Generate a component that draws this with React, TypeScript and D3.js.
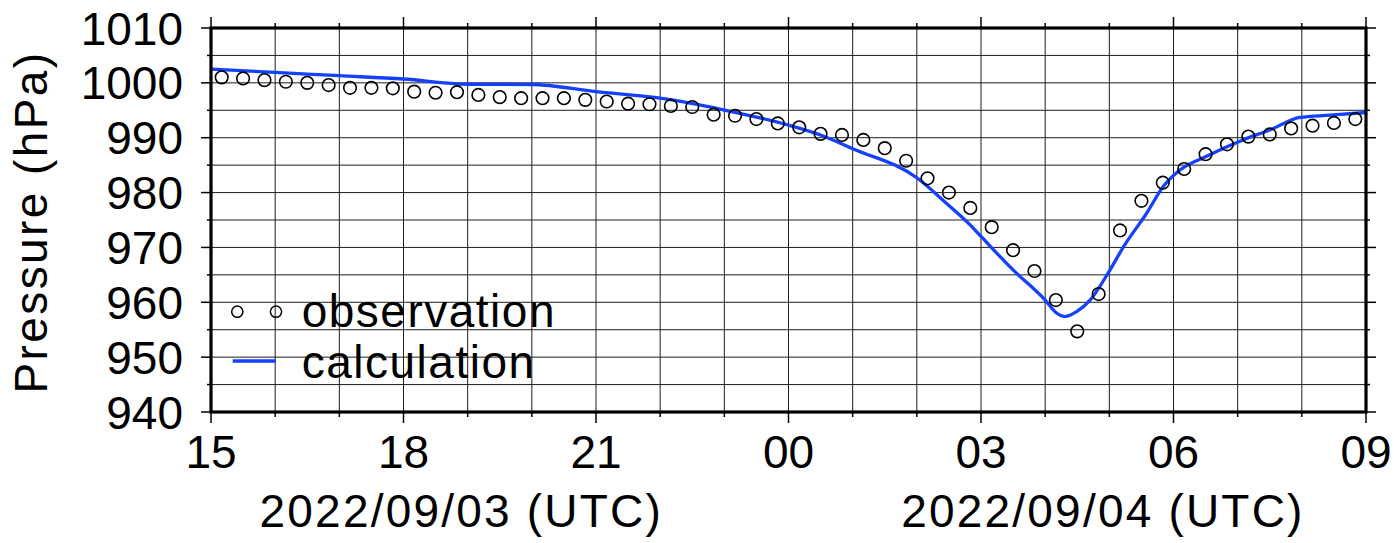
import React from "react";
import * as d3 from "d3";

// ---- data ----
const xTickLabels = ["15", "18", "21", "00", "03", "06", "09"]; // every 3 h from 15 UTC
const dateLabels = ["2022/09/03 (UTC)", "2022/09/04 (UTC)"];
const yTicks = [940, 950, 960, 970, 980, 990, 1000, 1010];

// observation times (UTC) and pressure (hPa)
const obsTimes = [
  "15:10", "15:30", "15:50", "16:10", "16:30", "16:50", "17:10", "17:30", "17:50",
  "18:10", "18:30", "18:50", "19:10", "19:30", "19:50", "20:10", "20:30", "20:50",
  "21:10", "21:30", "21:50", "22:10", "22:30", "22:50", "23:10", "23:30", "23:50",
  "00:10", "00:30", "00:50", "01:10", "01:30", "01:50", "02:10", "02:30", "02:50",
  "03:10", "03:30", "03:50", "04:10", "04:30", "04:50", "05:10", "05:30", "05:50",
  "06:10", "06:30", "06:50", "07:10", "07:30", "07:50", "08:10", "08:30", "08:50",
];
const obsValues = [
  1001.0, 1000.8, 1000.5, 1000.2, 1000.0, 999.6, 999.1, 999.1, 999.0,
  998.4, 998.2, 998.3, 997.8, 997.4, 997.2, 997.2, 997.2, 996.9,
  996.6, 996.2, 996.1, 995.8, 995.6, 994.2, 994.0, 993.4, 992.6,
  991.9, 990.7, 990.5, 989.6, 988.1, 985.8, 982.6, 980.0, 977.2,
  973.7, 969.5, 965.7, 960.4, 954.7, 961.5, 973.1, 978.5, 981.8,
  984.3, 987.0, 988.8, 990.2, 990.6, 991.7, 992.2, 992.7, 993.4,
];

// calculation: hours since 2022/09/03 15 UTC and pressure (hPa)
const calcHours = [
  0, 1, 2, 3, 4, 5, 6, 7, 8, 9, 9.5, 10, 11, 11.46, 11.83, 12.0, 12.5, 13.0,
  13.18, 13.31, 13.49, 13.7, 13.98, 14.22, 14.58, 14.84, 15.1, 15.49, 16.08,
  16.5, 16.97, 17.44, 18,
];
const calcValues = [
  1002.5, 1001.9, 1001.3, 1000.7, 999.75, 999.7, 998.4, 997.2, 995.05, 992.3,
  990.5, 988.0, 982.7, 978.05, 974.1, 972.0, 965.9, 960.4, 958.0, 957.4, 958.3,
  960.4, 965.3, 970.1, 976.2, 981.1, 984.1, 986.5, 989.6, 991.4, 993.7, 994.1,
  994.6,
];

const W = 1394;
const H = 543;
const M = { left: 211, right: 1366, top: 28, bottom: 412 };
const FONT = "'Liberation Sans', Arial, Helvetica, sans-serif";
const BLUE = "#1440ff";

function toHours(t: string): number {
  const [hh, mm] = t.split(":").map(Number);
  const h = hh + mm / 60;
  return h >= 15 ? h - 15 : h + 9;
}

export default function App() {
  const x = d3.scaleLinear().domain([0, 18]).range([M.left, M.right]);
  const y = d3.scaleLinear().domain([940, 1010]).range([M.bottom, M.top]);

  const hourTicks = d3.range(0, 19, 1);
  const pTicks = d3.range(940, 1011, 5);

  const obs = obsTimes.map((t, i) => ({ h: toHours(t), p: obsValues[i] }));
  const calc = calcHours.map((h, i) => ({ h, p: calcValues[i] }));

  const line = d3
    .line<{ h: number; p: number }>()
    .x((d) => x(d.h))
    .y((d) => y(d.p))
    .curve(d3.curveMonotoneX);

  const gridColor = "#1e1e1e";
  const axisW = 3.2;

  return (
    <svg
      width={W}
      height={H}
      style={{ position: "absolute", left: 0, top: 0, background: "#fff" }}
      fontFamily={FONT}
    >
      {/* grid */}
      <g stroke={gridColor} strokeWidth={1}>
        {hourTicks.map((h) => (
          <line key={"gx" + h} x1={x(h)} x2={x(h)} y1={M.top} y2={M.bottom} />
        ))}
        {pTicks.map((p) => (
          <line key={"gy" + p} x1={M.left} x2={M.right} y1={y(p)} y2={y(p)} />
        ))}
      </g>

      {/* ticks */}
      <g stroke="#000" strokeWidth={1.5}>
        {hourTicks.map((h) => {
          const major = h % 3 === 0;
          const len = major ? 11 : 5;
          return (
            <g key={"tx" + h}>
              <line x1={x(h)} x2={x(h)} y1={M.bottom} y2={M.bottom + len} />
              <line x1={x(h)} x2={x(h)} y1={M.top} y2={M.top - len} />
            </g>
          );
        })}
        {pTicks.map((p) => {
          const major = p % 10 === 0;
          const len = major ? 10 : 4;
          return (
            <g key={"ty" + p}>
              <line x1={M.left} x2={M.left - len} y1={y(p)} y2={y(p)} />
              <line x1={M.right} x2={M.right + len} y1={y(p)} y2={y(p)} />
            </g>
          );
        })}
      </g>

      {/* calculation line */}
      <path d={line(calc) || ""} fill="none" stroke={BLUE} strokeWidth={3.3} strokeLinejoin="round" />

      {/* observation circles */}
      <g fill="none" stroke="#000" strokeWidth={1.6}>
        {obs.map((d, i) => (
          <circle key={"o" + i} cx={x(d.h)} cy={y(d.p)} r={6.3} />
        ))}
      </g>

      {/* frame */}
      <rect
        x={M.left}
        y={M.top}
        width={M.right - M.left}
        height={M.bottom - M.top}
        fill="none"
        stroke="#000"
        strokeWidth={axisW}
      />

      {/* y tick labels */}
      <g fontSize={46} textAnchor="end" fill="#000">
        {yTicks.map((p) => (
          <text key={"yl" + p} x={M.left - 28} y={y(p) + 16.5}>
            {p}
          </text>
        ))}
      </g>

      {/* x tick labels */}
      <g fontSize={46} textAnchor="middle" fill="#000">
        {xTickLabels.map((lab, i) => (
          <text key={"xl" + i} x={x(i * 3)} y={M.bottom + 56}>
            {lab}
          </text>
        ))}
      </g>

      {/* date labels */}
      <g fontSize={46} textAnchor="middle" fill="#000" letterSpacing={2.2}>
        <text x={x(3.9)} y={527}>{dateLabels[0]}</text>
        <text x={x(13.9)} y={527}>{dateLabels[1]}</text>
      </g>

      {/* y axis title */}
      <text
        transform={`translate(47, 222) rotate(-90)`}
        fontSize={46}
        textAnchor="middle"
        letterSpacing={2.4}
        fill="#000"
      >
        Pressure (hPa)
      </text>

      {/* legend */}
      <g>
        <circle cx={237.3} cy={311.7} r={5.6} fill="none" stroke="#000" strokeWidth={1.5} />
        <circle cx={276} cy={311.7} r={5.6} fill="none" stroke="#000" strokeWidth={1.5} />
        <line x1={232.7} x2={276} y1={361} y2={361} stroke={BLUE} strokeWidth={3.3} />
        <g fontSize={46} letterSpacing={1.5} fill="#000">
          <text x={301.7} y={326.7}>observation</text>
          <text x={301.7} y={378.3}>calculation</text>
        </g>
      </g>
    </svg>
  );
}
